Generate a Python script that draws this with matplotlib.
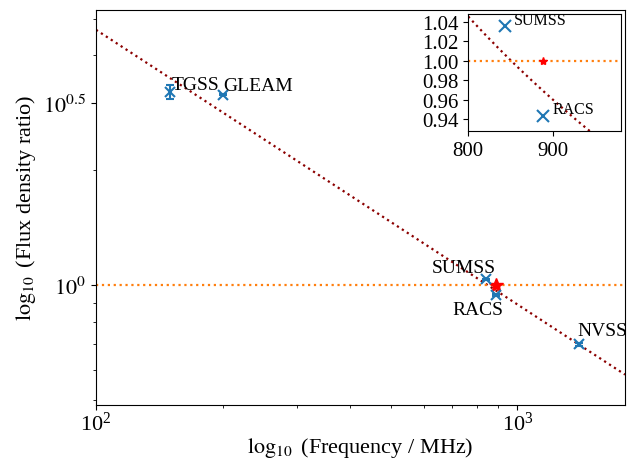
import numpy as np
import matplotlib
matplotlib.use("Agg")
import matplotlib.pyplot as plt
from matplotlib.ticker import FixedLocator, NullFormatter

plt.rcParams["font.family"] = "serif"
plt.rcParams["font.serif"] = ["Liberation Serif", "DejaVu Serif"]
plt.rcParams["mathtext.fontset"] = "stix"

# Survey measurements: frequency (MHz) and flux density ratio
surveys = ["TGSS", "GLEAM", "SUMSS", "RACS", "NVSS"]
freq_mhz = [150, 200, 843, 888, 1400]
flux_ratio = [3.21, 3.16, 1.036, 0.943, 0.70]
flux_err = [0.13, 0.01, 0.004, 0.004, 0.006]

# Reference point
ref_freq = 888
ref_ratio = 1.0

# Power-law fit: ratio = fit_norm * (nu / 1000 MHz) ** fit_alpha
fit_norm = 0.89
fit_alpha = -0.72

# Label offsets (points) for the survey names
main_offsets = [(1, 2), (0, 3), (-39, 5.5), (-31.5, -14), (-1.5, 7)]
inset_offsets = {"SUMSS": (7, 1), "RACS": (7, 2)}

fig = plt.figure(figsize=(6.28, 4.6), dpi=100)
ax = fig.add_axes([96 / 628, 1 - 405.7 / 460, (625 - 96) / 628, (405.7 - 10.5) / 460])

nu = np.logspace(np.log10(100), np.log10(1800), 200)
fit = fit_norm * (nu / 1000.0) ** fit_alpha

ax.plot(nu, fit, color="darkred", ls=":", lw=1.6)
ax.axhline(1.0, color="C1", ls=":", lw=1.6)
ax.errorbar(freq_mhz, flux_ratio, yerr=flux_err, fmt="x", color="C0",
            ms=7, capsize=3, mew=1.5)
ax.plot([ref_freq], [ref_ratio], marker="*", color="red", ms=10, ls="none")

for name, x, y, off in zip(surveys, freq_mhz, flux_ratio, main_offsets):
    ax.annotate(name, (x, y), xytext=off, textcoords="offset points",
                fontsize=14)

ax.set_xscale("log")
ax.set_yscale("log")
ax.set_xlim(100, 1800)
ax.set_ylim(0.486, 5.28)
ax.yaxis.set_major_locator(FixedLocator([1.0, 3.0]))
ax.set_yticklabels([r"$10^{0}$", r"$10^{0.5}$"])
ax.yaxis.set_minor_locator(FixedLocator([0.5, 0.6, 0.7, 0.8, 0.9, 2, 4, 5]))
ax.yaxis.set_minor_formatter(NullFormatter())
ax.tick_params(axis="both", which="major", labelsize=16)
ax.tick_params(axis="x", which="major", pad=1.5)

ax.set_xlabel(r"$\log_{10}$ (Frequency / MHz)", fontsize=16, labelpad=0)
ax.set_ylabel(r"$\log_{10}$ (Flux density ratio)", fontsize=16, labelpad=4)

# Zoomed view around the reference frequency
ins = fig.add_axes([468.3 / 628, 1 - 132.3 / 460, (621 - 468.3) / 628, (132.3 - 15) / 460])
nu_in = np.linspace(780, 1000, 200)
ins.plot(nu_in, fit_norm * (nu_in / 1000.0) ** fit_alpha, color="darkred", ls=":", lw=1.6)
ins.axhline(1.0, color="C1", ls=":", lw=1.6)
ins.plot(freq_mhz[2:4], flux_ratio[2:4], "x", color="C0", ms=8, mew=1.5)
ins.plot([ref_freq], [ref_ratio], marker="*", color="red", ms=6, ls="none")
for name, x, y in zip(surveys[2:4], freq_mhz[2:4], flux_ratio[2:4]):
    ins.annotate(name, (x, y), xytext=inset_offsets[name],
                 textcoords="offset points", fontsize=11.5)
ins.set_xlim(800, 981)
ins.set_ylim(0.9275, 1.0478)
ins.set_xticks([800, 900])
ins.set_yticks([0.94, 0.96, 0.98, 1.00, 1.02, 1.04])
ins.set_yticklabels([f"{v:.2f}" for v in [0.94, 0.96, 0.98, 1.00, 1.02, 1.04]])
ins.tick_params(axis="both", labelsize=15)

fig.savefig("out.png", dpi=100)
